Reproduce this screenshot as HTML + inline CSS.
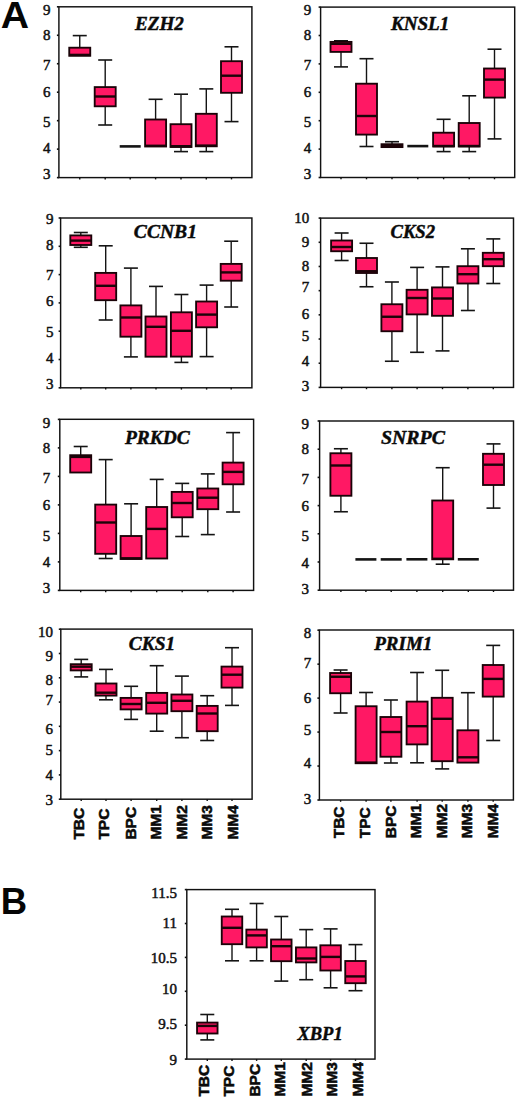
<!DOCTYPE html>
<html><head><meta charset="utf-8"><title>Figure</title>
<style>
html,body{margin:0;padding:0;background:#fff;}
body{width:520px;height:1100px;overflow:hidden;position:relative;}
svg{position:absolute;left:0;top:0;display:block;}
.yl{font-family:"Liberation Serif",serif;font-weight:normal;font-size:15px;text-anchor:end;fill:#111;stroke:#111;stroke-width:0.5px;}
.tt{font-family:"Liberation Serif",serif;font-weight:bold;font-style:italic;font-size:19.3px;fill:#0a0a0a;stroke:#0a0a0a;stroke-width:0.45px;}
.xl{font-family:"Liberation Sans",sans-serif;font-weight:bold;font-size:15.5px;fill:#0a0a0a;stroke:#0a0a0a;stroke-width:0.55px;}
.big{font-family:"Liberation Sans",sans-serif;font-weight:bold;font-size:36.5px;fill:#050505;}
</style></head>
<body>
<svg width="520" height="1100" viewBox="0 0 520 1100">
<rect x="0" y="0" width="520" height="1100" fill="#fff"/>
<rect x="58.9" y="6.8" width="193" height="170.8" fill="none" stroke="#111111" stroke-width="1.45"/>
<line x1="56.9" y1="6.8" x2="58.9" y2="6.8" stroke="#111111" stroke-width="1.6"/>
<text x="50.6" y="14.65" class="yl">9</text>
<line x1="56.9" y1="35.27" x2="58.9" y2="35.27" stroke="#111111" stroke-width="1.6"/>
<text x="50.6" y="39.7" class="yl">8</text>
<line x1="56.9" y1="63.73" x2="58.9" y2="63.73" stroke="#111111" stroke-width="1.6"/>
<text x="50.6" y="69.5" class="yl">7</text>
<line x1="56.9" y1="92.2" x2="58.9" y2="92.2" stroke="#111111" stroke-width="1.6"/>
<text x="50.6" y="96.8" class="yl">6</text>
<line x1="56.9" y1="120.67" x2="58.9" y2="120.67" stroke="#111111" stroke-width="1.6"/>
<text x="50.6" y="126.5" class="yl">5</text>
<line x1="56.9" y1="149.13" x2="58.9" y2="149.13" stroke="#111111" stroke-width="1.6"/>
<text x="50.6" y="152.9" class="yl">4</text>
<line x1="56.9" y1="177.6" x2="58.9" y2="177.6" stroke="#111111" stroke-width="1.6"/>
<text x="50.6" y="178.8" class="yl">3</text>
<line x1="79.75" y1="35.6" x2="79.75" y2="47.7" stroke="#141414" stroke-width="1.4"/>
<line x1="72.75" y1="35.6" x2="86.75" y2="35.6" stroke="#141414" stroke-width="1.6"/>
<rect x="69.25" y="47.7" width="21" height="8.1" fill="#ff1864" stroke="#1a0308" stroke-width="1.85"/>
<line x1="69.25" y1="54.9" x2="90.25" y2="54.9" stroke="#1c0308" stroke-width="2.4"/>
<line x1="119.7" y1="146.4" x2="140.7" y2="146.4" stroke="#141414" stroke-width="2.6"/>
<line x1="105.2" y1="60" x2="105.2" y2="87.1" stroke="#141414" stroke-width="1.4"/>
<line x1="98.2" y1="60" x2="112.2" y2="60" stroke="#141414" stroke-width="1.6"/>
<line x1="105.2" y1="106.3" x2="105.2" y2="125" stroke="#141414" stroke-width="1.4"/>
<line x1="98.2" y1="125" x2="112.2" y2="125" stroke="#141414" stroke-width="1.6"/>
<rect x="94.7" y="87.1" width="21" height="19.2" fill="#ff1864" stroke="#1a0308" stroke-width="1.85"/>
<line x1="94.7" y1="96.5" x2="115.7" y2="96.5" stroke="#1c0308" stroke-width="2.4"/>
<line x1="155.6" y1="99.3" x2="155.6" y2="119.5" stroke="#141414" stroke-width="1.4"/>
<line x1="148.6" y1="99.3" x2="162.6" y2="99.3" stroke="#141414" stroke-width="1.6"/>
<rect x="145.1" y="119.5" width="21" height="27" fill="#ff1864" stroke="#1a0308" stroke-width="1.85"/>
<line x1="145.1" y1="145.8" x2="166.1" y2="145.8" stroke="#1c0308" stroke-width="2.4"/>
<line x1="181" y1="94.2" x2="181" y2="124.2" stroke="#141414" stroke-width="1.4"/>
<line x1="174" y1="94.2" x2="188" y2="94.2" stroke="#141414" stroke-width="1.6"/>
<line x1="181" y1="147" x2="181" y2="151.6" stroke="#141414" stroke-width="1.4"/>
<line x1="174" y1="151.6" x2="188" y2="151.6" stroke="#141414" stroke-width="1.6"/>
<rect x="170.5" y="124.2" width="21" height="22.8" fill="#ff1864" stroke="#1a0308" stroke-width="1.85"/>
<line x1="170.5" y1="146.2" x2="191.5" y2="146.2" stroke="#1c0308" stroke-width="2.4"/>
<line x1="206.3" y1="88.9" x2="206.3" y2="113.8" stroke="#141414" stroke-width="1.4"/>
<line x1="199.3" y1="88.9" x2="213.3" y2="88.9" stroke="#141414" stroke-width="1.6"/>
<line x1="206.3" y1="146.3" x2="206.3" y2="151.6" stroke="#141414" stroke-width="1.4"/>
<line x1="199.3" y1="151.6" x2="213.3" y2="151.6" stroke="#141414" stroke-width="1.6"/>
<rect x="195.8" y="113.8" width="21" height="32.5" fill="#ff1864" stroke="#1a0308" stroke-width="1.85"/>
<line x1="195.8" y1="145.6" x2="216.8" y2="145.6" stroke="#1c0308" stroke-width="2.4"/>
<line x1="231.5" y1="46.8" x2="231.5" y2="61.2" stroke="#141414" stroke-width="1.4"/>
<line x1="224.5" y1="46.8" x2="238.5" y2="46.8" stroke="#141414" stroke-width="1.6"/>
<line x1="231.5" y1="92.8" x2="231.5" y2="121.6" stroke="#141414" stroke-width="1.4"/>
<line x1="224.5" y1="121.6" x2="238.5" y2="121.6" stroke="#141414" stroke-width="1.6"/>
<rect x="221" y="61.2" width="21" height="31.6" fill="#ff1864" stroke="#1a0308" stroke-width="1.85"/>
<line x1="221" y1="75.7" x2="242" y2="75.7" stroke="#1c0308" stroke-width="2.4"/>
<text transform="translate(135 30.4) scale(0.9928 1)" class="tt">EZH2</text>
<line x1="79.75" y1="177.6" x2="79.75" y2="179.4" stroke="#111111" stroke-width="1.4"/>
<line x1="130.2" y1="177.6" x2="130.2" y2="179.4" stroke="#111111" stroke-width="1.4"/>
<line x1="105.2" y1="177.6" x2="105.2" y2="179.4" stroke="#111111" stroke-width="1.4"/>
<line x1="155.6" y1="177.6" x2="155.6" y2="179.4" stroke="#111111" stroke-width="1.4"/>
<line x1="181" y1="177.6" x2="181" y2="179.4" stroke="#111111" stroke-width="1.4"/>
<line x1="206.3" y1="177.6" x2="206.3" y2="179.4" stroke="#111111" stroke-width="1.4"/>
<line x1="231.5" y1="177.6" x2="231.5" y2="179.4" stroke="#111111" stroke-width="1.4"/>
<rect x="320.6" y="7.1" width="194.1" height="170.4" fill="none" stroke="#111111" stroke-width="1.45"/>
<line x1="318.6" y1="7.1" x2="320.6" y2="7.1" stroke="#111111" stroke-width="1.6"/>
<text x="311.2" y="14.6" class="yl">9</text>
<line x1="318.6" y1="35.5" x2="320.6" y2="35.5" stroke="#111111" stroke-width="1.6"/>
<text x="311.2" y="40" class="yl">8</text>
<line x1="318.6" y1="63.9" x2="320.6" y2="63.9" stroke="#111111" stroke-width="1.6"/>
<text x="311.2" y="69.8" class="yl">7</text>
<line x1="318.6" y1="92.3" x2="320.6" y2="92.3" stroke="#111111" stroke-width="1.6"/>
<text x="311.2" y="96.5" class="yl">6</text>
<line x1="318.6" y1="120.7" x2="320.6" y2="120.7" stroke="#111111" stroke-width="1.6"/>
<text x="311.2" y="127" class="yl">5</text>
<line x1="318.6" y1="149.1" x2="320.6" y2="149.1" stroke="#111111" stroke-width="1.6"/>
<text x="311.2" y="152.8" class="yl">4</text>
<line x1="318.6" y1="177.5" x2="320.6" y2="177.5" stroke="#111111" stroke-width="1.6"/>
<text x="311.2" y="179.2" class="yl">3</text>
<line x1="341" y1="40.8" x2="341" y2="41.9" stroke="#141414" stroke-width="1.4"/>
<line x1="334" y1="40.8" x2="348" y2="40.8" stroke="#141414" stroke-width="1.6"/>
<line x1="341" y1="51.9" x2="341" y2="66.9" stroke="#141414" stroke-width="1.4"/>
<line x1="334" y1="66.9" x2="348" y2="66.9" stroke="#141414" stroke-width="1.6"/>
<rect x="330.5" y="41.9" width="21" height="10" fill="#ff1864" stroke="#1a0308" stroke-width="1.85"/>
<line x1="330.5" y1="43.8" x2="351.5" y2="43.8" stroke="#1c0308" stroke-width="2.4"/>
<line x1="366.5" y1="58.7" x2="366.5" y2="83.7" stroke="#141414" stroke-width="1.4"/>
<line x1="359.5" y1="58.7" x2="373.5" y2="58.7" stroke="#141414" stroke-width="1.6"/>
<line x1="366.5" y1="134.6" x2="366.5" y2="146.5" stroke="#141414" stroke-width="1.4"/>
<line x1="359.5" y1="146.5" x2="373.5" y2="146.5" stroke="#141414" stroke-width="1.6"/>
<rect x="356" y="83.7" width="21" height="50.9" fill="#ff1864" stroke="#1a0308" stroke-width="1.85"/>
<line x1="356" y1="116" x2="377" y2="116" stroke="#1c0308" stroke-width="2.4"/>
<line x1="392" y1="141.7" x2="392" y2="144.2" stroke="#141414" stroke-width="1.4"/>
<line x1="385" y1="141.7" x2="399" y2="141.7" stroke="#141414" stroke-width="1.6"/>
<rect x="381.5" y="144.2" width="21" height="2.9" fill="#ff1864" stroke="#1a0308" stroke-width="1.85"/>
<line x1="381.5" y1="146" x2="402.5" y2="146" stroke="#1c0308" stroke-width="2.4"/>
<line x1="407.3" y1="146.1" x2="428.3" y2="146.1" stroke="#141414" stroke-width="2.6"/>
<line x1="443.6" y1="119.3" x2="443.6" y2="132.7" stroke="#141414" stroke-width="1.4"/>
<line x1="436.6" y1="119.3" x2="450.6" y2="119.3" stroke="#141414" stroke-width="1.6"/>
<line x1="443.6" y1="146.5" x2="443.6" y2="151.6" stroke="#141414" stroke-width="1.4"/>
<line x1="436.6" y1="151.6" x2="450.6" y2="151.6" stroke="#141414" stroke-width="1.6"/>
<rect x="433.1" y="132.7" width="21" height="13.8" fill="#ff1864" stroke="#1a0308" stroke-width="1.85"/>
<line x1="433.1" y1="146" x2="454.1" y2="146" stroke="#1c0308" stroke-width="2.4"/>
<line x1="469.2" y1="95.8" x2="469.2" y2="123" stroke="#141414" stroke-width="1.4"/>
<line x1="462.2" y1="95.8" x2="476.2" y2="95.8" stroke="#141414" stroke-width="1.6"/>
<line x1="469.2" y1="146.5" x2="469.2" y2="151.6" stroke="#141414" stroke-width="1.4"/>
<line x1="462.2" y1="151.6" x2="476.2" y2="151.6" stroke="#141414" stroke-width="1.6"/>
<rect x="458.7" y="123" width="21" height="23.5" fill="#ff1864" stroke="#1a0308" stroke-width="1.85"/>
<line x1="458.7" y1="146" x2="479.7" y2="146" stroke="#1c0308" stroke-width="2.4"/>
<line x1="494.5" y1="49.2" x2="494.5" y2="68.5" stroke="#141414" stroke-width="1.4"/>
<line x1="487.5" y1="49.2" x2="501.5" y2="49.2" stroke="#141414" stroke-width="1.6"/>
<line x1="494.5" y1="97.6" x2="494.5" y2="138.9" stroke="#141414" stroke-width="1.4"/>
<line x1="487.5" y1="138.9" x2="501.5" y2="138.9" stroke="#141414" stroke-width="1.6"/>
<rect x="484" y="68.5" width="21" height="29.1" fill="#ff1864" stroke="#1a0308" stroke-width="1.85"/>
<line x1="484" y1="79.6" x2="505" y2="79.6" stroke="#1c0308" stroke-width="2.4"/>
<text transform="translate(390.9 30.1) scale(0.9895 1)" class="tt">KNSL1</text>
<line x1="341" y1="177.5" x2="341" y2="179.3" stroke="#111111" stroke-width="1.4"/>
<line x1="366.5" y1="177.5" x2="366.5" y2="179.3" stroke="#111111" stroke-width="1.4"/>
<line x1="392" y1="177.5" x2="392" y2="179.3" stroke="#111111" stroke-width="1.4"/>
<line x1="417.8" y1="177.5" x2="417.8" y2="179.3" stroke="#111111" stroke-width="1.4"/>
<line x1="443.6" y1="177.5" x2="443.6" y2="179.3" stroke="#111111" stroke-width="1.4"/>
<line x1="469.2" y1="177.5" x2="469.2" y2="179.3" stroke="#111111" stroke-width="1.4"/>
<line x1="494.5" y1="177.5" x2="494.5" y2="179.3" stroke="#111111" stroke-width="1.4"/>
<rect x="60.6" y="218" width="191.3" height="169.8" fill="none" stroke="#111111" stroke-width="1.45"/>
<line x1="58.6" y1="218" x2="60.6" y2="218" stroke="#111111" stroke-width="1.6"/>
<text x="53.6" y="223.5" class="yl">9</text>
<line x1="58.6" y1="246.3" x2="60.6" y2="246.3" stroke="#111111" stroke-width="1.6"/>
<text x="53.6" y="249.5" class="yl">8</text>
<line x1="58.6" y1="274.6" x2="60.6" y2="274.6" stroke="#111111" stroke-width="1.6"/>
<text x="53.6" y="279.7" class="yl">7</text>
<line x1="58.6" y1="302.9" x2="60.6" y2="302.9" stroke="#111111" stroke-width="1.6"/>
<text x="53.6" y="306.1" class="yl">6</text>
<line x1="58.6" y1="331.2" x2="60.6" y2="331.2" stroke="#111111" stroke-width="1.6"/>
<text x="53.6" y="336.6" class="yl">5</text>
<line x1="58.6" y1="359.5" x2="60.6" y2="359.5" stroke="#111111" stroke-width="1.6"/>
<text x="53.6" y="362.8" class="yl">4</text>
<line x1="58.6" y1="387.8" x2="60.6" y2="387.8" stroke="#111111" stroke-width="1.6"/>
<text x="53.6" y="389" class="yl">3</text>
<line x1="80.8" y1="232.5" x2="80.8" y2="235.4" stroke="#141414" stroke-width="1.4"/>
<line x1="73.8" y1="232.5" x2="87.8" y2="232.5" stroke="#141414" stroke-width="1.6"/>
<line x1="80.8" y1="245" x2="80.8" y2="247.3" stroke="#141414" stroke-width="1.4"/>
<line x1="73.8" y1="247.3" x2="87.8" y2="247.3" stroke="#141414" stroke-width="1.6"/>
<rect x="70.3" y="235.4" width="21" height="9.6" fill="#ff1864" stroke="#1a0308" stroke-width="1.85"/>
<line x1="70.3" y1="240.6" x2="91.3" y2="240.6" stroke="#1c0308" stroke-width="2.4"/>
<line x1="105.7" y1="245.8" x2="105.7" y2="272.9" stroke="#141414" stroke-width="1.4"/>
<line x1="98.7" y1="245.8" x2="112.7" y2="245.8" stroke="#141414" stroke-width="1.6"/>
<line x1="105.7" y1="300.2" x2="105.7" y2="320" stroke="#141414" stroke-width="1.4"/>
<line x1="98.7" y1="320" x2="112.7" y2="320" stroke="#141414" stroke-width="1.6"/>
<rect x="95.2" y="272.9" width="21" height="27.3" fill="#ff1864" stroke="#1a0308" stroke-width="1.85"/>
<line x1="95.2" y1="285.8" x2="116.2" y2="285.8" stroke="#1c0308" stroke-width="2.4"/>
<line x1="130.9" y1="268.1" x2="130.9" y2="305.4" stroke="#141414" stroke-width="1.4"/>
<line x1="123.9" y1="268.1" x2="137.9" y2="268.1" stroke="#141414" stroke-width="1.6"/>
<line x1="130.9" y1="336.7" x2="130.9" y2="356.9" stroke="#141414" stroke-width="1.4"/>
<line x1="123.9" y1="356.9" x2="137.9" y2="356.9" stroke="#141414" stroke-width="1.6"/>
<rect x="120.4" y="305.4" width="21" height="31.3" fill="#ff1864" stroke="#1a0308" stroke-width="1.85"/>
<line x1="120.4" y1="317.5" x2="141.4" y2="317.5" stroke="#1c0308" stroke-width="2.4"/>
<line x1="156" y1="286.4" x2="156" y2="316.5" stroke="#141414" stroke-width="1.4"/>
<line x1="149" y1="286.4" x2="163" y2="286.4" stroke="#141414" stroke-width="1.6"/>
<rect x="145.5" y="316.5" width="21" height="40.2" fill="#ff1864" stroke="#1a0308" stroke-width="1.85"/>
<line x1="145.5" y1="326.8" x2="166.5" y2="326.8" stroke="#1c0308" stroke-width="2.4"/>
<line x1="181.4" y1="294.5" x2="181.4" y2="312.3" stroke="#141414" stroke-width="1.4"/>
<line x1="174.4" y1="294.5" x2="188.4" y2="294.5" stroke="#141414" stroke-width="1.6"/>
<line x1="181.4" y1="356.6" x2="181.4" y2="362.4" stroke="#141414" stroke-width="1.4"/>
<line x1="174.4" y1="362.4" x2="188.4" y2="362.4" stroke="#141414" stroke-width="1.6"/>
<rect x="170.9" y="312.3" width="21" height="44.3" fill="#ff1864" stroke="#1a0308" stroke-width="1.85"/>
<line x1="170.9" y1="330.8" x2="191.9" y2="330.8" stroke="#1c0308" stroke-width="2.4"/>
<line x1="206.6" y1="285.1" x2="206.6" y2="301.5" stroke="#141414" stroke-width="1.4"/>
<line x1="199.6" y1="285.1" x2="213.6" y2="285.1" stroke="#141414" stroke-width="1.6"/>
<line x1="206.6" y1="327.3" x2="206.6" y2="356.6" stroke="#141414" stroke-width="1.4"/>
<line x1="199.6" y1="356.6" x2="213.6" y2="356.6" stroke="#141414" stroke-width="1.6"/>
<rect x="196.1" y="301.5" width="21" height="25.8" fill="#ff1864" stroke="#1a0308" stroke-width="1.85"/>
<line x1="196.1" y1="314.6" x2="217.1" y2="314.6" stroke="#1c0308" stroke-width="2.4"/>
<line x1="231.2" y1="241.2" x2="231.2" y2="263.9" stroke="#141414" stroke-width="1.4"/>
<line x1="224.2" y1="241.2" x2="238.2" y2="241.2" stroke="#141414" stroke-width="1.6"/>
<line x1="231.2" y1="280.7" x2="231.2" y2="307" stroke="#141414" stroke-width="1.4"/>
<line x1="224.2" y1="307" x2="238.2" y2="307" stroke="#141414" stroke-width="1.6"/>
<rect x="220.7" y="263.9" width="21" height="16.8" fill="#ff1864" stroke="#1a0308" stroke-width="1.85"/>
<line x1="220.7" y1="272.4" x2="241.7" y2="272.4" stroke="#1c0308" stroke-width="2.4"/>
<text transform="translate(133.84 238.1) scale(1.0151 1)" class="tt">CCNB1</text>
<line x1="80.8" y1="387.8" x2="80.8" y2="389.6" stroke="#111111" stroke-width="1.4"/>
<line x1="105.7" y1="387.8" x2="105.7" y2="389.6" stroke="#111111" stroke-width="1.4"/>
<line x1="130.9" y1="387.8" x2="130.9" y2="389.6" stroke="#111111" stroke-width="1.4"/>
<line x1="156" y1="387.8" x2="156" y2="389.6" stroke="#111111" stroke-width="1.4"/>
<line x1="181.4" y1="387.8" x2="181.4" y2="389.6" stroke="#111111" stroke-width="1.4"/>
<line x1="206.6" y1="387.8" x2="206.6" y2="389.6" stroke="#111111" stroke-width="1.4"/>
<line x1="231.2" y1="387.8" x2="231.2" y2="389.6" stroke="#111111" stroke-width="1.4"/>
<rect x="320.6" y="218.1" width="192.9" height="169.3" fill="none" stroke="#111111" stroke-width="1.45"/>
<line x1="318.6" y1="218.1" x2="320.6" y2="218.1" stroke="#111111" stroke-width="1.6"/>
<text x="309.2" y="222.7" class="yl">10</text>
<line x1="318.6" y1="242.29" x2="320.6" y2="242.29" stroke="#111111" stroke-width="1.6"/>
<text x="309.2" y="246.5" class="yl">9</text>
<line x1="318.6" y1="266.47" x2="320.6" y2="266.47" stroke="#111111" stroke-width="1.6"/>
<text x="309.2" y="270.9" class="yl">8</text>
<line x1="318.6" y1="290.66" x2="320.6" y2="290.66" stroke="#111111" stroke-width="1.6"/>
<text x="309.2" y="291.9" class="yl">7</text>
<line x1="318.6" y1="314.84" x2="320.6" y2="314.84" stroke="#111111" stroke-width="1.6"/>
<text x="309.2" y="319.4" class="yl">6</text>
<line x1="318.6" y1="339.03" x2="320.6" y2="339.03" stroke="#111111" stroke-width="1.6"/>
<text x="309.2" y="341.4" class="yl">5</text>
<line x1="318.6" y1="363.21" x2="320.6" y2="363.21" stroke="#111111" stroke-width="1.6"/>
<text x="309.2" y="365.7" class="yl">4</text>
<line x1="318.6" y1="387.4" x2="320.6" y2="387.4" stroke="#111111" stroke-width="1.6"/>
<text x="309.2" y="391.2" class="yl">3</text>
<line x1="341.6" y1="233" x2="341.6" y2="240.5" stroke="#141414" stroke-width="1.4"/>
<line x1="334.6" y1="233" x2="348.6" y2="233" stroke="#141414" stroke-width="1.6"/>
<line x1="341.6" y1="251.25" x2="341.6" y2="260.5" stroke="#141414" stroke-width="1.4"/>
<line x1="334.6" y1="260.5" x2="348.6" y2="260.5" stroke="#141414" stroke-width="1.6"/>
<rect x="331.1" y="240.5" width="21" height="10.75" fill="#ff1864" stroke="#1a0308" stroke-width="1.85"/>
<line x1="331.1" y1="247" x2="352.1" y2="247" stroke="#1c0308" stroke-width="2.4"/>
<line x1="366.5" y1="243.25" x2="366.5" y2="258" stroke="#141414" stroke-width="1.4"/>
<line x1="359.5" y1="243.25" x2="373.5" y2="243.25" stroke="#141414" stroke-width="1.6"/>
<line x1="366.5" y1="273" x2="366.5" y2="286.75" stroke="#141414" stroke-width="1.4"/>
<line x1="359.5" y1="286.75" x2="373.5" y2="286.75" stroke="#141414" stroke-width="1.6"/>
<rect x="356" y="258" width="21" height="15" fill="#ff1864" stroke="#1a0308" stroke-width="1.85"/>
<line x1="356" y1="271.25" x2="377" y2="271.25" stroke="#1c0308" stroke-width="2.4"/>
<line x1="391.9" y1="282" x2="391.9" y2="304.25" stroke="#141414" stroke-width="1.4"/>
<line x1="384.9" y1="282" x2="398.9" y2="282" stroke="#141414" stroke-width="1.6"/>
<line x1="391.9" y1="331.25" x2="391.9" y2="361.25" stroke="#141414" stroke-width="1.4"/>
<line x1="384.9" y1="361.25" x2="398.9" y2="361.25" stroke="#141414" stroke-width="1.6"/>
<rect x="381.4" y="304.25" width="21" height="27" fill="#ff1864" stroke="#1a0308" stroke-width="1.85"/>
<line x1="381.4" y1="316.75" x2="402.4" y2="316.75" stroke="#1c0308" stroke-width="2.4"/>
<line x1="417.1" y1="267.4" x2="417.1" y2="289.8" stroke="#141414" stroke-width="1.4"/>
<line x1="410.1" y1="267.4" x2="424.1" y2="267.4" stroke="#141414" stroke-width="1.6"/>
<line x1="417.1" y1="314.4" x2="417.1" y2="352.3" stroke="#141414" stroke-width="1.4"/>
<line x1="410.1" y1="352.3" x2="424.1" y2="352.3" stroke="#141414" stroke-width="1.6"/>
<rect x="406.6" y="289.8" width="21" height="24.6" fill="#ff1864" stroke="#1a0308" stroke-width="1.85"/>
<line x1="406.6" y1="298" x2="427.6" y2="298" stroke="#1c0308" stroke-width="2.4"/>
<line x1="442.5" y1="266.9" x2="442.5" y2="287.4" stroke="#141414" stroke-width="1.4"/>
<line x1="435.5" y1="266.9" x2="449.5" y2="266.9" stroke="#141414" stroke-width="1.6"/>
<line x1="442.5" y1="315.8" x2="442.5" y2="350.9" stroke="#141414" stroke-width="1.4"/>
<line x1="435.5" y1="350.9" x2="449.5" y2="350.9" stroke="#141414" stroke-width="1.6"/>
<rect x="432" y="287.4" width="21" height="28.4" fill="#ff1864" stroke="#1a0308" stroke-width="1.85"/>
<line x1="432" y1="298.5" x2="453" y2="298.5" stroke="#1c0308" stroke-width="2.4"/>
<line x1="467.9" y1="248.8" x2="467.9" y2="266.2" stroke="#141414" stroke-width="1.4"/>
<line x1="460.9" y1="248.8" x2="474.9" y2="248.8" stroke="#141414" stroke-width="1.6"/>
<line x1="467.9" y1="283.5" x2="467.9" y2="310.5" stroke="#141414" stroke-width="1.4"/>
<line x1="460.9" y1="310.5" x2="474.9" y2="310.5" stroke="#141414" stroke-width="1.6"/>
<rect x="457.4" y="266.2" width="21" height="17.3" fill="#ff1864" stroke="#1a0308" stroke-width="1.85"/>
<line x1="457.4" y1="274.2" x2="478.4" y2="274.2" stroke="#1c0308" stroke-width="2.4"/>
<line x1="493.3" y1="238.9" x2="493.3" y2="252.8" stroke="#141414" stroke-width="1.4"/>
<line x1="486.3" y1="238.9" x2="500.3" y2="238.9" stroke="#141414" stroke-width="1.6"/>
<line x1="493.3" y1="266.2" x2="493.3" y2="283.5" stroke="#141414" stroke-width="1.4"/>
<line x1="486.3" y1="283.5" x2="500.3" y2="283.5" stroke="#141414" stroke-width="1.6"/>
<rect x="482.8" y="252.8" width="21" height="13.4" fill="#ff1864" stroke="#1a0308" stroke-width="1.85"/>
<line x1="482.8" y1="259.2" x2="503.8" y2="259.2" stroke="#1c0308" stroke-width="2.4"/>
<text transform="translate(390.47 238.1) scale(0.9667 1)" class="tt">CKS2</text>
<line x1="341.6" y1="387.4" x2="341.6" y2="389.2" stroke="#111111" stroke-width="1.4"/>
<line x1="366.5" y1="387.4" x2="366.5" y2="389.2" stroke="#111111" stroke-width="1.4"/>
<line x1="391.9" y1="387.4" x2="391.9" y2="389.2" stroke="#111111" stroke-width="1.4"/>
<line x1="417.1" y1="387.4" x2="417.1" y2="389.2" stroke="#111111" stroke-width="1.4"/>
<line x1="442.5" y1="387.4" x2="442.5" y2="389.2" stroke="#111111" stroke-width="1.4"/>
<line x1="467.9" y1="387.4" x2="467.9" y2="389.2" stroke="#111111" stroke-width="1.4"/>
<line x1="493.3" y1="387.4" x2="493.3" y2="389.2" stroke="#111111" stroke-width="1.4"/>
<rect x="59.8" y="419.3" width="193.8" height="171.1" fill="none" stroke="#111111" stroke-width="1.45"/>
<line x1="57.8" y1="419.4" x2="59.8" y2="419.4" stroke="#111111" stroke-width="1.6"/>
<text x="50.3" y="427.8" class="yl">9</text>
<line x1="57.8" y1="447.9" x2="59.8" y2="447.9" stroke="#111111" stroke-width="1.6"/>
<text x="50.3" y="453.3" class="yl">8</text>
<line x1="57.8" y1="476.4" x2="59.8" y2="476.4" stroke="#111111" stroke-width="1.6"/>
<text x="50.3" y="483.3" class="yl">7</text>
<line x1="57.8" y1="504.9" x2="59.8" y2="504.9" stroke="#111111" stroke-width="1.6"/>
<text x="50.3" y="510" class="yl">6</text>
<line x1="57.8" y1="533.4" x2="59.8" y2="533.4" stroke="#111111" stroke-width="1.6"/>
<text x="50.3" y="540.7" class="yl">5</text>
<line x1="57.8" y1="561.9" x2="59.8" y2="561.9" stroke="#111111" stroke-width="1.6"/>
<text x="50.3" y="566.6" class="yl">4</text>
<line x1="57.8" y1="590.4" x2="59.8" y2="590.4" stroke="#111111" stroke-width="1.6"/>
<text x="50.3" y="592.7" class="yl">3</text>
<line x1="80.7" y1="446.5" x2="80.7" y2="455.2" stroke="#141414" stroke-width="1.4"/>
<line x1="73.7" y1="446.5" x2="87.7" y2="446.5" stroke="#141414" stroke-width="1.6"/>
<rect x="70.2" y="455.2" width="21" height="17.3" fill="#ff1864" stroke="#1a0308" stroke-width="1.85"/>
<line x1="70.2" y1="456.9" x2="91.2" y2="456.9" stroke="#1c0308" stroke-width="2.4"/>
<line x1="105.7" y1="459.6" x2="105.7" y2="504.6" stroke="#141414" stroke-width="1.4"/>
<line x1="98.7" y1="459.6" x2="112.7" y2="459.6" stroke="#141414" stroke-width="1.6"/>
<line x1="105.7" y1="553.8" x2="105.7" y2="558.5" stroke="#141414" stroke-width="1.4"/>
<line x1="98.7" y1="558.5" x2="112.7" y2="558.5" stroke="#141414" stroke-width="1.6"/>
<rect x="95.2" y="504.6" width="21" height="49.2" fill="#ff1864" stroke="#1a0308" stroke-width="1.85"/>
<line x1="95.2" y1="522.5" x2="116.2" y2="522.5" stroke="#1c0308" stroke-width="2.4"/>
<line x1="131.1" y1="503.8" x2="131.1" y2="536" stroke="#141414" stroke-width="1.4"/>
<line x1="124.1" y1="503.8" x2="138.1" y2="503.8" stroke="#141414" stroke-width="1.6"/>
<rect x="120.6" y="536" width="21" height="23" fill="#ff1864" stroke="#1a0308" stroke-width="1.85"/>
<line x1="120.6" y1="558.3" x2="141.6" y2="558.3" stroke="#1c0308" stroke-width="2.4"/>
<line x1="156.7" y1="479.4" x2="156.7" y2="507" stroke="#141414" stroke-width="1.4"/>
<line x1="149.7" y1="479.4" x2="163.7" y2="479.4" stroke="#141414" stroke-width="1.6"/>
<rect x="146.2" y="507" width="21" height="51.5" fill="#ff1864" stroke="#1a0308" stroke-width="1.85"/>
<line x1="146.2" y1="528.9" x2="167.2" y2="528.9" stroke="#1c0308" stroke-width="2.4"/>
<line x1="182.2" y1="483.4" x2="182.2" y2="491.9" stroke="#141414" stroke-width="1.4"/>
<line x1="175.2" y1="483.4" x2="189.2" y2="483.4" stroke="#141414" stroke-width="1.6"/>
<line x1="182.2" y1="517.3" x2="182.2" y2="536.5" stroke="#141414" stroke-width="1.4"/>
<line x1="175.2" y1="536.5" x2="189.2" y2="536.5" stroke="#141414" stroke-width="1.6"/>
<rect x="171.7" y="491.9" width="21" height="25.4" fill="#ff1864" stroke="#1a0308" stroke-width="1.85"/>
<line x1="171.7" y1="503" x2="192.7" y2="503" stroke="#1c0308" stroke-width="2.4"/>
<line x1="207.8" y1="473.9" x2="207.8" y2="488.5" stroke="#141414" stroke-width="1.4"/>
<line x1="200.8" y1="473.9" x2="214.8" y2="473.9" stroke="#141414" stroke-width="1.6"/>
<line x1="207.8" y1="509.2" x2="207.8" y2="534.6" stroke="#141414" stroke-width="1.4"/>
<line x1="200.8" y1="534.6" x2="214.8" y2="534.6" stroke="#141414" stroke-width="1.6"/>
<rect x="197.3" y="488.5" width="21" height="20.7" fill="#ff1864" stroke="#1a0308" stroke-width="1.85"/>
<line x1="197.3" y1="497.7" x2="218.3" y2="497.7" stroke="#1c0308" stroke-width="2.4"/>
<line x1="233.1" y1="432.6" x2="233.1" y2="462.6" stroke="#141414" stroke-width="1.4"/>
<line x1="226.1" y1="432.6" x2="240.1" y2="432.6" stroke="#141414" stroke-width="1.6"/>
<line x1="233.1" y1="484.3" x2="233.1" y2="512" stroke="#141414" stroke-width="1.4"/>
<line x1="226.1" y1="512" x2="240.1" y2="512" stroke="#141414" stroke-width="1.6"/>
<rect x="222.6" y="462.6" width="21" height="21.7" fill="#ff1864" stroke="#1a0308" stroke-width="1.85"/>
<line x1="222.6" y1="471.9" x2="243.6" y2="471.9" stroke="#1c0308" stroke-width="2.4"/>
<text transform="translate(124.9 443.8) scale(1.0093 1)" class="tt">PRKDC</text>
<line x1="80.7" y1="590.4" x2="80.7" y2="592.2" stroke="#111111" stroke-width="1.4"/>
<line x1="105.7" y1="590.4" x2="105.7" y2="592.2" stroke="#111111" stroke-width="1.4"/>
<line x1="131.1" y1="590.4" x2="131.1" y2="592.2" stroke="#111111" stroke-width="1.4"/>
<line x1="156.7" y1="590.4" x2="156.7" y2="592.2" stroke="#111111" stroke-width="1.4"/>
<line x1="182.2" y1="590.4" x2="182.2" y2="592.2" stroke="#111111" stroke-width="1.4"/>
<line x1="207.8" y1="590.4" x2="207.8" y2="592.2" stroke="#111111" stroke-width="1.4"/>
<line x1="233.1" y1="590.4" x2="233.1" y2="592.2" stroke="#111111" stroke-width="1.4"/>
<rect x="319.6" y="421" width="193.9" height="169.2" fill="none" stroke="#111111" stroke-width="1.45"/>
<line x1="317.6" y1="421" x2="319.6" y2="421" stroke="#111111" stroke-width="1.6"/>
<text x="308.9" y="428.5" class="yl">9</text>
<line x1="317.6" y1="449.2" x2="319.6" y2="449.2" stroke="#111111" stroke-width="1.6"/>
<text x="308.9" y="454" class="yl">8</text>
<line x1="317.6" y1="477.4" x2="319.6" y2="477.4" stroke="#111111" stroke-width="1.6"/>
<text x="308.9" y="483.8" class="yl">7</text>
<line x1="317.6" y1="505.6" x2="319.6" y2="505.6" stroke="#111111" stroke-width="1.6"/>
<text x="308.9" y="510.6" class="yl">6</text>
<line x1="317.6" y1="533.8" x2="319.6" y2="533.8" stroke="#111111" stroke-width="1.6"/>
<text x="308.9" y="541.2" class="yl">5</text>
<line x1="317.6" y1="562" x2="319.6" y2="562" stroke="#111111" stroke-width="1.6"/>
<text x="308.9" y="567.7" class="yl">4</text>
<line x1="317.6" y1="590.2" x2="319.6" y2="590.2" stroke="#111111" stroke-width="1.6"/>
<text x="308.9" y="593.5" class="yl">3</text>
<line x1="340.9" y1="448.75" x2="340.9" y2="453.25" stroke="#141414" stroke-width="1.4"/>
<line x1="333.9" y1="448.75" x2="347.9" y2="448.75" stroke="#141414" stroke-width="1.6"/>
<line x1="340.9" y1="495.75" x2="340.9" y2="511.75" stroke="#141414" stroke-width="1.4"/>
<line x1="333.9" y1="511.75" x2="347.9" y2="511.75" stroke="#141414" stroke-width="1.6"/>
<rect x="330.4" y="453.25" width="21" height="42.5" fill="#ff1864" stroke="#1a0308" stroke-width="1.85"/>
<line x1="330.4" y1="465.5" x2="351.4" y2="465.5" stroke="#1c0308" stroke-width="2.4"/>
<line x1="355.4" y1="559.4" x2="376.4" y2="559.4" stroke="#141414" stroke-width="2.6"/>
<line x1="380.7" y1="559.4" x2="401.7" y2="559.4" stroke="#141414" stroke-width="2.6"/>
<line x1="406.4" y1="559.3" x2="427.4" y2="559.3" stroke="#141414" stroke-width="2.6"/>
<line x1="442.7" y1="467.7" x2="442.7" y2="500.5" stroke="#141414" stroke-width="1.4"/>
<line x1="435.7" y1="467.7" x2="449.7" y2="467.7" stroke="#141414" stroke-width="1.6"/>
<line x1="442.7" y1="559.3" x2="442.7" y2="564.2" stroke="#141414" stroke-width="1.4"/>
<line x1="435.7" y1="564.2" x2="449.7" y2="564.2" stroke="#141414" stroke-width="1.6"/>
<rect x="432.2" y="500.5" width="21" height="58.8" fill="#ff1864" stroke="#1a0308" stroke-width="1.85"/>
<line x1="432.2" y1="558.8" x2="453.2" y2="558.8" stroke="#1c0308" stroke-width="2.4"/>
<line x1="457.8" y1="559.3" x2="478.8" y2="559.3" stroke="#141414" stroke-width="2.6"/>
<line x1="493.5" y1="443.9" x2="493.5" y2="453.8" stroke="#141414" stroke-width="1.4"/>
<line x1="486.5" y1="443.9" x2="500.5" y2="443.9" stroke="#141414" stroke-width="1.6"/>
<line x1="493.5" y1="485" x2="493.5" y2="508.1" stroke="#141414" stroke-width="1.4"/>
<line x1="486.5" y1="508.1" x2="500.5" y2="508.1" stroke="#141414" stroke-width="1.6"/>
<rect x="483" y="453.8" width="21" height="31.2" fill="#ff1864" stroke="#1a0308" stroke-width="1.85"/>
<line x1="483" y1="464.7" x2="504" y2="464.7" stroke="#1c0308" stroke-width="2.4"/>
<text transform="translate(380.94 444.3) scale(1.0290 1)" class="tt">SNRPC</text>
<line x1="340.9" y1="590.2" x2="340.9" y2="592" stroke="#111111" stroke-width="1.4"/>
<line x1="365.9" y1="590.2" x2="365.9" y2="592" stroke="#111111" stroke-width="1.4"/>
<line x1="391.2" y1="590.2" x2="391.2" y2="592" stroke="#111111" stroke-width="1.4"/>
<line x1="416.9" y1="590.2" x2="416.9" y2="592" stroke="#111111" stroke-width="1.4"/>
<line x1="442.7" y1="590.2" x2="442.7" y2="592" stroke="#111111" stroke-width="1.4"/>
<line x1="468.3" y1="590.2" x2="468.3" y2="592" stroke="#111111" stroke-width="1.4"/>
<line x1="493.5" y1="590.2" x2="493.5" y2="592" stroke="#111111" stroke-width="1.4"/>
<rect x="60.8" y="629.1" width="191.3" height="170.1" fill="none" stroke="#111111" stroke-width="1.45"/>
<line x1="58.8" y1="629.2" x2="60.8" y2="629.2" stroke="#111111" stroke-width="1.6"/>
<text x="53.1" y="636.5" class="yl">10</text>
<line x1="58.8" y1="653.49" x2="60.8" y2="653.49" stroke="#111111" stroke-width="1.6"/>
<text x="53.1" y="660.5" class="yl">9</text>
<line x1="58.8" y1="677.77" x2="60.8" y2="677.77" stroke="#111111" stroke-width="1.6"/>
<text x="53.1" y="684.8" class="yl">8</text>
<line x1="58.8" y1="702.06" x2="60.8" y2="702.06" stroke="#111111" stroke-width="1.6"/>
<text x="53.1" y="705.4" class="yl">7</text>
<line x1="58.8" y1="726.34" x2="60.8" y2="726.34" stroke="#111111" stroke-width="1.6"/>
<text x="53.1" y="733.5" class="yl">6</text>
<line x1="58.8" y1="750.63" x2="60.8" y2="750.63" stroke="#111111" stroke-width="1.6"/>
<text x="53.1" y="755" class="yl">5</text>
<line x1="58.8" y1="774.91" x2="60.8" y2="774.91" stroke="#111111" stroke-width="1.6"/>
<text x="53.1" y="779.6" class="yl">4</text>
<line x1="58.8" y1="799.2" x2="60.8" y2="799.2" stroke="#111111" stroke-width="1.6"/>
<text x="53.1" y="804.6" class="yl">3</text>
<line x1="81.2" y1="659.4" x2="81.2" y2="664.2" stroke="#141414" stroke-width="1.4"/>
<line x1="74.2" y1="659.4" x2="88.2" y2="659.4" stroke="#141414" stroke-width="1.6"/>
<line x1="81.2" y1="670.4" x2="81.2" y2="676.9" stroke="#141414" stroke-width="1.4"/>
<line x1="74.2" y1="676.9" x2="88.2" y2="676.9" stroke="#141414" stroke-width="1.6"/>
<rect x="70.7" y="664.2" width="21" height="6.2" fill="#ff1864" stroke="#1a0308" stroke-width="1.85"/>
<line x1="70.7" y1="666.7" x2="91.7" y2="666.7" stroke="#1c0308" stroke-width="2.4"/>
<line x1="106" y1="669.4" x2="106" y2="683.5" stroke="#141414" stroke-width="1.4"/>
<line x1="99" y1="669.4" x2="113" y2="669.4" stroke="#141414" stroke-width="1.6"/>
<line x1="106" y1="695.6" x2="106" y2="699.8" stroke="#141414" stroke-width="1.4"/>
<line x1="99" y1="699.8" x2="113" y2="699.8" stroke="#141414" stroke-width="1.6"/>
<rect x="95.5" y="683.5" width="21" height="12.1" fill="#ff1864" stroke="#1a0308" stroke-width="1.85"/>
<line x1="95.5" y1="692.7" x2="116.5" y2="692.7" stroke="#1c0308" stroke-width="2.4"/>
<line x1="131.1" y1="686.3" x2="131.1" y2="697.9" stroke="#141414" stroke-width="1.4"/>
<line x1="124.1" y1="686.3" x2="138.1" y2="686.3" stroke="#141414" stroke-width="1.6"/>
<line x1="131.1" y1="709.4" x2="131.1" y2="719.4" stroke="#141414" stroke-width="1.4"/>
<line x1="124.1" y1="719.4" x2="138.1" y2="719.4" stroke="#141414" stroke-width="1.6"/>
<rect x="120.6" y="697.9" width="21" height="11.5" fill="#ff1864" stroke="#1a0308" stroke-width="1.85"/>
<line x1="120.6" y1="704" x2="141.6" y2="704" stroke="#1c0308" stroke-width="2.4"/>
<line x1="156.7" y1="665.7" x2="156.7" y2="692.9" stroke="#141414" stroke-width="1.4"/>
<line x1="149.7" y1="665.7" x2="163.7" y2="665.7" stroke="#141414" stroke-width="1.6"/>
<line x1="156.7" y1="713.6" x2="156.7" y2="731.2" stroke="#141414" stroke-width="1.4"/>
<line x1="149.7" y1="731.2" x2="163.7" y2="731.2" stroke="#141414" stroke-width="1.6"/>
<rect x="146.2" y="692.9" width="21" height="20.7" fill="#ff1864" stroke="#1a0308" stroke-width="1.85"/>
<line x1="146.2" y1="702.8" x2="167.2" y2="702.8" stroke="#1c0308" stroke-width="2.4"/>
<line x1="181.9" y1="676.1" x2="181.9" y2="694.5" stroke="#141414" stroke-width="1.4"/>
<line x1="174.9" y1="676.1" x2="188.9" y2="676.1" stroke="#141414" stroke-width="1.6"/>
<line x1="181.9" y1="711.2" x2="181.9" y2="737.7" stroke="#141414" stroke-width="1.4"/>
<line x1="174.9" y1="737.7" x2="188.9" y2="737.7" stroke="#141414" stroke-width="1.6"/>
<rect x="171.4" y="694.5" width="21" height="16.7" fill="#ff1864" stroke="#1a0308" stroke-width="1.85"/>
<line x1="171.4" y1="700.8" x2="192.4" y2="700.8" stroke="#1c0308" stroke-width="2.4"/>
<line x1="207.2" y1="695.7" x2="207.2" y2="705.9" stroke="#141414" stroke-width="1.4"/>
<line x1="200.2" y1="695.7" x2="214.2" y2="695.7" stroke="#141414" stroke-width="1.6"/>
<line x1="207.2" y1="731.2" x2="207.2" y2="740.5" stroke="#141414" stroke-width="1.4"/>
<line x1="200.2" y1="740.5" x2="214.2" y2="740.5" stroke="#141414" stroke-width="1.6"/>
<rect x="196.7" y="705.9" width="21" height="25.3" fill="#ff1864" stroke="#1a0308" stroke-width="1.85"/>
<line x1="196.7" y1="713.5" x2="217.7" y2="713.5" stroke="#1c0308" stroke-width="2.4"/>
<line x1="232" y1="647.7" x2="232" y2="666.6" stroke="#141414" stroke-width="1.4"/>
<line x1="225" y1="647.7" x2="239" y2="647.7" stroke="#141414" stroke-width="1.6"/>
<line x1="232" y1="687.6" x2="232" y2="705.4" stroke="#141414" stroke-width="1.4"/>
<line x1="225" y1="705.4" x2="239" y2="705.4" stroke="#141414" stroke-width="1.6"/>
<rect x="221.5" y="666.6" width="21" height="21" fill="#ff1864" stroke="#1a0308" stroke-width="1.85"/>
<line x1="221.5" y1="674.7" x2="242.5" y2="674.7" stroke="#1c0308" stroke-width="2.4"/>
<text transform="translate(128.85 650.1) scale(1.0035 1)" class="tt">CKS1</text>
<line x1="81.2" y1="799.2" x2="81.2" y2="801" stroke="#111111" stroke-width="1.4"/>
<line x1="106" y1="799.2" x2="106" y2="801" stroke="#111111" stroke-width="1.4"/>
<line x1="131.1" y1="799.2" x2="131.1" y2="801" stroke="#111111" stroke-width="1.4"/>
<line x1="156.7" y1="799.2" x2="156.7" y2="801" stroke="#111111" stroke-width="1.4"/>
<line x1="181.9" y1="799.2" x2="181.9" y2="801" stroke="#111111" stroke-width="1.4"/>
<line x1="207.2" y1="799.2" x2="207.2" y2="801" stroke="#111111" stroke-width="1.4"/>
<line x1="232" y1="799.2" x2="232" y2="801" stroke="#111111" stroke-width="1.4"/>
<rect x="319.4" y="630" width="194" height="170" fill="none" stroke="#111111" stroke-width="1.45"/>
<line x1="317.4" y1="630.2" x2="319.4" y2="630.2" stroke="#111111" stroke-width="1.6"/>
<text x="311.3" y="637.5" class="yl">8</text>
<line x1="317.4" y1="664.16" x2="319.4" y2="664.16" stroke="#111111" stroke-width="1.6"/>
<text x="311.3" y="667.9" class="yl">7</text>
<line x1="317.4" y1="698.12" x2="319.4" y2="698.12" stroke="#111111" stroke-width="1.6"/>
<text x="311.3" y="702.6" class="yl">6</text>
<line x1="317.4" y1="732.08" x2="319.4" y2="732.08" stroke="#111111" stroke-width="1.6"/>
<text x="311.3" y="734.8" class="yl">5</text>
<line x1="317.4" y1="766.04" x2="319.4" y2="766.04" stroke="#111111" stroke-width="1.6"/>
<text x="311.3" y="768" class="yl">4</text>
<line x1="317.4" y1="800" x2="319.4" y2="800" stroke="#111111" stroke-width="1.6"/>
<text x="311.3" y="803.5" class="yl">3</text>
<line x1="340.6" y1="670" x2="340.6" y2="673" stroke="#141414" stroke-width="1.4"/>
<line x1="333.6" y1="670" x2="347.6" y2="670" stroke="#141414" stroke-width="1.6"/>
<line x1="340.6" y1="693.25" x2="340.6" y2="713" stroke="#141414" stroke-width="1.4"/>
<line x1="333.6" y1="713" x2="347.6" y2="713" stroke="#141414" stroke-width="1.6"/>
<rect x="330.1" y="673" width="21" height="20.25" fill="#ff1864" stroke="#1a0308" stroke-width="1.85"/>
<line x1="330.1" y1="676.75" x2="351.1" y2="676.75" stroke="#1c0308" stroke-width="2.4"/>
<line x1="366.1" y1="692.5" x2="366.1" y2="706.25" stroke="#141414" stroke-width="1.4"/>
<line x1="359.1" y1="692.5" x2="373.1" y2="692.5" stroke="#141414" stroke-width="1.6"/>
<rect x="355.6" y="706.25" width="21" height="57" fill="#ff1864" stroke="#1a0308" stroke-width="1.85"/>
<line x1="355.6" y1="762.6" x2="376.6" y2="762.6" stroke="#1c0308" stroke-width="2.4"/>
<line x1="390.9" y1="700" x2="390.9" y2="717" stroke="#141414" stroke-width="1.4"/>
<line x1="383.9" y1="700" x2="397.9" y2="700" stroke="#141414" stroke-width="1.6"/>
<line x1="390.9" y1="756.75" x2="390.9" y2="763" stroke="#141414" stroke-width="1.4"/>
<line x1="383.9" y1="763" x2="397.9" y2="763" stroke="#141414" stroke-width="1.6"/>
<rect x="380.4" y="717" width="21" height="39.75" fill="#ff1864" stroke="#1a0308" stroke-width="1.85"/>
<line x1="380.4" y1="732" x2="401.4" y2="732" stroke="#1c0308" stroke-width="2.4"/>
<line x1="417.1" y1="672.5" x2="417.1" y2="701.6" stroke="#141414" stroke-width="1.4"/>
<line x1="410.1" y1="672.5" x2="424.1" y2="672.5" stroke="#141414" stroke-width="1.6"/>
<line x1="417.1" y1="744.4" x2="417.1" y2="762.8" stroke="#141414" stroke-width="1.4"/>
<line x1="410.1" y1="762.8" x2="424.1" y2="762.8" stroke="#141414" stroke-width="1.6"/>
<rect x="406.6" y="701.6" width="21" height="42.8" fill="#ff1864" stroke="#1a0308" stroke-width="1.85"/>
<line x1="406.6" y1="726.2" x2="427.6" y2="726.2" stroke="#1c0308" stroke-width="2.4"/>
<line x1="442.2" y1="670.3" x2="442.2" y2="697.8" stroke="#141414" stroke-width="1.4"/>
<line x1="435.2" y1="670.3" x2="449.2" y2="670.3" stroke="#141414" stroke-width="1.6"/>
<line x1="442.2" y1="761.2" x2="442.2" y2="768.9" stroke="#141414" stroke-width="1.4"/>
<line x1="435.2" y1="768.9" x2="449.2" y2="768.9" stroke="#141414" stroke-width="1.6"/>
<rect x="431.7" y="697.8" width="21" height="63.4" fill="#ff1864" stroke="#1a0308" stroke-width="1.85"/>
<line x1="431.7" y1="718.8" x2="452.7" y2="718.8" stroke="#1c0308" stroke-width="2.4"/>
<line x1="467.9" y1="692.7" x2="467.9" y2="730.3" stroke="#141414" stroke-width="1.4"/>
<line x1="460.9" y1="692.7" x2="474.9" y2="692.7" stroke="#141414" stroke-width="1.6"/>
<rect x="457.4" y="730.3" width="21" height="32.3" fill="#ff1864" stroke="#1a0308" stroke-width="1.85"/>
<line x1="457.4" y1="757.3" x2="478.4" y2="757.3" stroke="#1c0308" stroke-width="2.4"/>
<line x1="493.2" y1="645.4" x2="493.2" y2="665" stroke="#141414" stroke-width="1.4"/>
<line x1="486.2" y1="645.4" x2="500.2" y2="645.4" stroke="#141414" stroke-width="1.6"/>
<line x1="493.2" y1="696.6" x2="493.2" y2="740.5" stroke="#141414" stroke-width="1.4"/>
<line x1="486.2" y1="740.5" x2="500.2" y2="740.5" stroke="#141414" stroke-width="1.6"/>
<rect x="482.7" y="665" width="21" height="31.6" fill="#ff1864" stroke="#1a0308" stroke-width="1.85"/>
<line x1="482.7" y1="678.9" x2="503.7" y2="678.9" stroke="#1c0308" stroke-width="2.4"/>
<text transform="translate(374.2 650.1) scale(0.9860 1)" class="tt">PRIM1</text>
<line x1="340.6" y1="800" x2="340.6" y2="801.8" stroke="#111111" stroke-width="1.4"/>
<line x1="366.1" y1="800" x2="366.1" y2="801.8" stroke="#111111" stroke-width="1.4"/>
<line x1="390.9" y1="800" x2="390.9" y2="801.8" stroke="#111111" stroke-width="1.4"/>
<line x1="417.1" y1="800" x2="417.1" y2="801.8" stroke="#111111" stroke-width="1.4"/>
<line x1="442.2" y1="800" x2="442.2" y2="801.8" stroke="#111111" stroke-width="1.4"/>
<line x1="467.9" y1="800" x2="467.9" y2="801.8" stroke="#111111" stroke-width="1.4"/>
<line x1="493.2" y1="800" x2="493.2" y2="801.8" stroke="#111111" stroke-width="1.4"/>
<rect x="186.8" y="889.6" width="188.2" height="169.5" fill="none" stroke="#111111" stroke-width="1.45"/>
<line x1="184.8" y1="889.6" x2="186.8" y2="889.6" stroke="#111111" stroke-width="1.6"/>
<text x="176.9" y="897.7" class="yl">11.5</text>
<line x1="184.8" y1="923.5" x2="186.8" y2="923.5" stroke="#111111" stroke-width="1.6"/>
<text x="176.9" y="927.8" class="yl">11</text>
<line x1="184.8" y1="957.4" x2="186.8" y2="957.4" stroke="#111111" stroke-width="1.6"/>
<text x="176.9" y="963" class="yl">10.5</text>
<line x1="184.8" y1="991.3" x2="186.8" y2="991.3" stroke="#111111" stroke-width="1.6"/>
<text x="176.9" y="994.2" class="yl">10</text>
<line x1="184.8" y1="1025.2" x2="186.8" y2="1025.2" stroke="#111111" stroke-width="1.6"/>
<text x="176.9" y="1028.8" class="yl">9.5</text>
<line x1="184.8" y1="1059.1" x2="186.8" y2="1059.1" stroke="#111111" stroke-width="1.6"/>
<text x="176.9" y="1065" class="yl">9</text>
<line x1="207.3" y1="1014.5" x2="207.3" y2="1022.6" stroke="#141414" stroke-width="1.4"/>
<line x1="200.3" y1="1014.5" x2="214.3" y2="1014.5" stroke="#141414" stroke-width="1.6"/>
<line x1="207.3" y1="1033.5" x2="207.3" y2="1039.9" stroke="#141414" stroke-width="1.4"/>
<line x1="200.3" y1="1039.9" x2="214.3" y2="1039.9" stroke="#141414" stroke-width="1.6"/>
<rect x="197.05" y="1022.6" width="20.5" height="10.9" fill="#ff1864" stroke="#1a0308" stroke-width="1.85"/>
<line x1="197.05" y1="1025.9" x2="217.55" y2="1025.9" stroke="#1c0308" stroke-width="2.4"/>
<line x1="232" y1="909.3" x2="232" y2="916.5" stroke="#141414" stroke-width="1.4"/>
<line x1="225" y1="909.3" x2="239" y2="909.3" stroke="#141414" stroke-width="1.6"/>
<line x1="232" y1="944.2" x2="232" y2="960.8" stroke="#141414" stroke-width="1.4"/>
<line x1="225" y1="960.8" x2="239" y2="960.8" stroke="#141414" stroke-width="1.6"/>
<rect x="221.75" y="916.5" width="20.5" height="27.7" fill="#ff1864" stroke="#1a0308" stroke-width="1.85"/>
<line x1="221.75" y1="927.8" x2="242.25" y2="927.8" stroke="#1c0308" stroke-width="2.4"/>
<line x1="256.6" y1="903.5" x2="256.6" y2="929.6" stroke="#141414" stroke-width="1.4"/>
<line x1="249.6" y1="903.5" x2="263.6" y2="903.5" stroke="#141414" stroke-width="1.6"/>
<line x1="256.6" y1="947.4" x2="256.6" y2="960.8" stroke="#141414" stroke-width="1.4"/>
<line x1="249.6" y1="960.8" x2="263.6" y2="960.8" stroke="#141414" stroke-width="1.6"/>
<rect x="246.35" y="929.6" width="20.5" height="17.8" fill="#ff1864" stroke="#1a0308" stroke-width="1.85"/>
<line x1="246.35" y1="935.4" x2="266.85" y2="935.4" stroke="#1c0308" stroke-width="2.4"/>
<line x1="281.3" y1="916.5" x2="281.3" y2="939.5" stroke="#141414" stroke-width="1.4"/>
<line x1="274.3" y1="916.5" x2="288.3" y2="916.5" stroke="#141414" stroke-width="1.6"/>
<line x1="281.3" y1="961.2" x2="281.3" y2="981.1" stroke="#141414" stroke-width="1.4"/>
<line x1="274.3" y1="981.1" x2="288.3" y2="981.1" stroke="#141414" stroke-width="1.6"/>
<rect x="271.05" y="939.5" width="20.5" height="21.7" fill="#ff1864" stroke="#1a0308" stroke-width="1.85"/>
<line x1="271.05" y1="946.2" x2="291.55" y2="946.2" stroke="#1c0308" stroke-width="2.4"/>
<line x1="306.2" y1="929.6" x2="306.2" y2="947.4" stroke="#141414" stroke-width="1.4"/>
<line x1="299.2" y1="929.6" x2="313.2" y2="929.6" stroke="#141414" stroke-width="1.6"/>
<line x1="306.2" y1="962.4" x2="306.2" y2="979.7" stroke="#141414" stroke-width="1.4"/>
<line x1="299.2" y1="979.7" x2="313.2" y2="979.7" stroke="#141414" stroke-width="1.6"/>
<rect x="295.95" y="947.4" width="20.5" height="15" fill="#ff1864" stroke="#1a0308" stroke-width="1.85"/>
<line x1="295.95" y1="958.5" x2="316.45" y2="958.5" stroke="#1c0308" stroke-width="2.4"/>
<line x1="330.6" y1="928.9" x2="330.6" y2="945.3" stroke="#141414" stroke-width="1.4"/>
<line x1="323.6" y1="928.9" x2="337.6" y2="928.9" stroke="#141414" stroke-width="1.6"/>
<line x1="330.6" y1="970.5" x2="330.6" y2="987.8" stroke="#141414" stroke-width="1.4"/>
<line x1="323.6" y1="987.8" x2="337.6" y2="987.8" stroke="#141414" stroke-width="1.6"/>
<rect x="320.35" y="945.3" width="20.5" height="25.2" fill="#ff1864" stroke="#1a0308" stroke-width="1.85"/>
<line x1="320.35" y1="956.9" x2="340.85" y2="956.9" stroke="#1c0308" stroke-width="2.4"/>
<line x1="355.5" y1="944.6" x2="355.5" y2="961" stroke="#141414" stroke-width="1.4"/>
<line x1="348.5" y1="944.6" x2="362.5" y2="944.6" stroke="#141414" stroke-width="1.6"/>
<line x1="355.5" y1="983.2" x2="355.5" y2="990.7" stroke="#141414" stroke-width="1.4"/>
<line x1="348.5" y1="990.7" x2="362.5" y2="990.7" stroke="#141414" stroke-width="1.6"/>
<rect x="345.25" y="961" width="20.5" height="22.2" fill="#ff1864" stroke="#1a0308" stroke-width="1.85"/>
<line x1="345.25" y1="976.4" x2="365.75" y2="976.4" stroke="#1c0308" stroke-width="2.4"/>
<text transform="translate(297.38 1040.4) scale(0.9596 1)" class="tt">XBP1</text>
<line x1="207.3" y1="1059.1" x2="207.3" y2="1060.9" stroke="#111111" stroke-width="1.4"/>
<line x1="232" y1="1059.1" x2="232" y2="1060.9" stroke="#111111" stroke-width="1.4"/>
<line x1="256.6" y1="1059.1" x2="256.6" y2="1060.9" stroke="#111111" stroke-width="1.4"/>
<line x1="281.3" y1="1059.1" x2="281.3" y2="1060.9" stroke="#111111" stroke-width="1.4"/>
<line x1="306.2" y1="1059.1" x2="306.2" y2="1060.9" stroke="#111111" stroke-width="1.4"/>
<line x1="330.6" y1="1059.1" x2="330.6" y2="1060.9" stroke="#111111" stroke-width="1.4"/>
<line x1="355.5" y1="1059.1" x2="355.5" y2="1060.9" stroke="#111111" stroke-width="1.4"/>
<text class="xl" transform="translate(84 839.6) rotate(-90)">TBC</text>
<text class="xl" transform="translate(109.4 839.6) rotate(-90)">TPC</text>
<text class="xl" transform="translate(135.5 839.6) rotate(-90)">BPC</text>
<text class="xl" transform="translate(160.9 839.6) rotate(-90)">MM1</text>
<text class="xl" transform="translate(186.5 839.6) rotate(-90)">MM2</text>
<text class="xl" transform="translate(212.4 839.6) rotate(-90)">MM3</text>
<text class="xl" transform="translate(238.4 839.6) rotate(-90)">MM4</text>
<text class="xl" transform="translate(344.2 838.3) rotate(-90)">TBC</text>
<text class="xl" transform="translate(369.8 838.3) rotate(-90)">TPC</text>
<text class="xl" transform="translate(395.7 838.3) rotate(-90)">BPC</text>
<text class="xl" transform="translate(421.1 838.3) rotate(-90)">MM1</text>
<text class="xl" transform="translate(446.8 838.3) rotate(-90)">MM2</text>
<text class="xl" transform="translate(472.4 838.3) rotate(-90)">MM3</text>
<text class="xl" transform="translate(498.1 838.3) rotate(-90)">MM4</text>
<text class="xl" transform="translate(209.3 1096.6) rotate(-90)">TBC</text>
<text class="xl" transform="translate(234.3 1096.6) rotate(-90)">TPC</text>
<text class="xl" transform="translate(259.8 1096.6) rotate(-90)">BPC</text>
<text class="xl" transform="translate(285.3 1096.6) rotate(-90)">MM1</text>
<text class="xl" transform="translate(311.6 1096.6) rotate(-90)">MM2</text>
<text class="xl" transform="translate(336.7 1096.6) rotate(-90)">MM3</text>
<text class="xl" transform="translate(362.6 1096.6) rotate(-90)">MM4</text>
<text transform="translate(0.8 27.7) scale(1.075 1)" class="big">A</text>
<text x="0.8" y="914.2" class="big">B</text>
</svg>
</body></html>
